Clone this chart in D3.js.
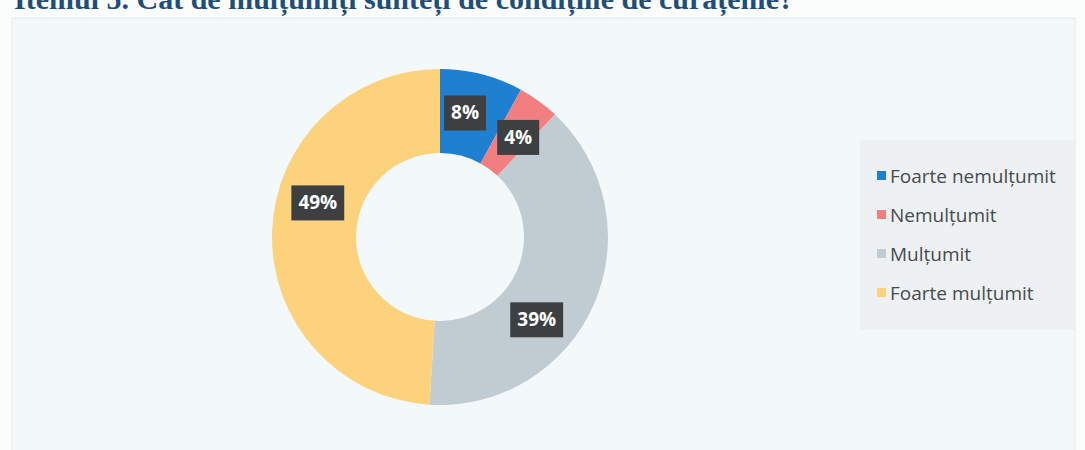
<!DOCTYPE html>
<html>
<head>
<meta charset="utf-8">
<script src="https://cdn.jsdelivr.net/npm/d3@7"></script>
<style>
  body { margin: 0; background: #fbfdfd; }
  #chart { width: 1085px; height: 450px; }
</style>
</head>
<body>
<div id="chart"></div>
<script>
// answers to the question, clockwise from 12 o'clock
const categories = ["Foarte nemulțumit", "Nemulțumit", "Mulțumit", "Foarte mulțumit"];
const values = [8, 4, 39, 49];
const colors = ["#1f80d2", "#f27e80", "#c0cbd2", "#fcd27c"];
const titleText = "Itemul 5. Cât de mulțumiți sunteți de condițiile de curățenie?";

document.addEventListener('DOMContentLoaded', function() {
    const width = 1085;
    const height = 450;

    const svg = d3.select('#chart')
        .append('svg')
        .attr('width', width)
        .attr('height', height);

    // chart area frame
    svg.append("rect")
        .attr("x", 12).attr("y", 18)
        .attr("width", 1063).attr("height", 440)
        .attr("fill", "#f3f8fa")
        .attr("stroke", "#e6eaec");

    // faint grey tint around the legend (scan shading)
    svg.append("rect")
        .attr("x", 860).attr("y", 140)
        .attr("width", 215).attr("height", 190)
        .attr("fill", "#e6e9eb")
        .attr("opacity", 0.45);

    // title, cut off at the top edge as in the scan
    svg.append("text")
        .attr("x", 14)
        .attr("y", 9)
        .attr("fill", "#1f4e79")
        .style("font-family", "'Liberation Serif', 'DejaVu Serif', serif")
        .style("font-weight", "bold")
        .style("font-size", "30px")
        .text(titleText);

    const cx = 440, cy = 237;
    const outerR = 168, innerR = 84;

    const pie = d3.pie().sort(null).value(d => d);
    const arcs = pie(values);

    const arc = d3.arc().innerRadius(innerR).outerRadius(outerR);

    const g = svg.append("g").attr("transform", `translate(${cx},${cy})`);

    g.selectAll("path")
        .data(arcs)
        .join("path")
        .attr("d", arc)
        .attr("fill", (d, i) => colors[i]);

    // data labels: near the ring centroid, nudged a bit like the original
    const labelShift = [-3, 2, 17, 14]; // degrees
    const labelR = 127;
    const labels = g.selectAll("g.lbl")
        .data(arcs)
        .join("g")
        .attr("class", "lbl")
        .attr("transform", (d, i) => {
            const a = (d.startAngle + d.endAngle) / 2 + labelShift[i] * Math.PI / 180;
            return `translate(${labelR * Math.sin(a)},${-labelR * Math.cos(a)})`;
        });

    labels.append("text")
        .attr("text-anchor", "middle")
        .attr("dy", "0.36em")
        .attr("fill", "#ffffff")
        .style("font-family", "'Open Sans', 'Noto Sans', sans-serif")
        .style("font-weight", "bold")
        .style("font-size", "19px")
        .text(d => d.data + "%");

    labels.each(function() {
        const t = d3.select(this).select("text");
        const b = t.node().getBBox();
        d3.select(this).insert("rect", "text")
            .attr("x", b.x - 7)
            .attr("y", -17)
            .attr("width", b.width + 14)
            .attr("height", 35)
            .attr("fill", "#3d3f40");
    });

    // legend
    const legend = svg.append("g").attr("transform", "translate(877,176)");
    const item = legend.selectAll("g")
        .data(categories)
        .join("g")
        .attr("transform", (d, i) => `translate(0,${i * 39})`);

    item.append("rect")
        .attr("x", 0).attr("y", -5)
        .attr("width", 9).attr("height", 9)
        .attr("fill", (d, i) => colors[i]);

    item.append("text")
        .attr("x", 13)
        .attr("dy", "0.35em")
        .attr("fill", "#474b4e")
        .style("font-family", "'Open Sans', 'Noto Sans', sans-serif")
        .style("font-size", "19px")
        .text(d => d);
});
</script>
</body>
</html>
